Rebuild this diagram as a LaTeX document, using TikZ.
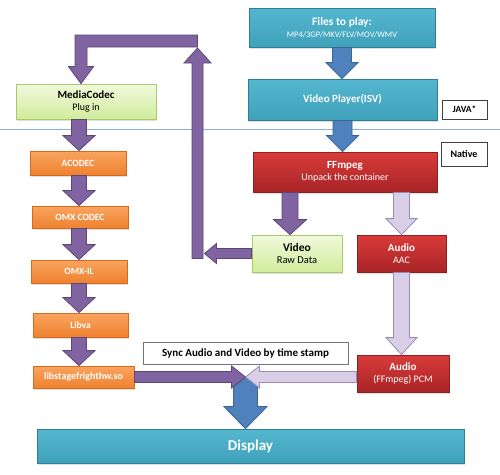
\documentclass[tikz,border=0pt]{standalone}
\usepackage{fontspec}
\setmainfont{Carlito}
\usetikzlibrary{calc,shadows}
\definecolor{tealT}{HTML}{55B6CF}
\definecolor{tealB}{HTML}{3FA1BA}
\definecolor{tealD}{HTML}{2E7E94}
\definecolor{redT}{HTML}{D93B3A}
\definecolor{redB}{HTML}{A82426}
\definecolor{redD}{HTML}{8A2222}
\definecolor{orT}{HTML}{FAA460}
\definecolor{orB}{HTML}{EE822F}
\definecolor{orD}{HTML}{D66B1C}
\definecolor{grT}{HTML}{F1F9DC}
\definecolor{grB}{HTML}{D1EC9C}
\definecolor{grD}{HTML}{A8C96C}
\definecolor{purF}{HTML}{8064A2}
\definecolor{purD}{HTML}{5C4776}
\definecolor{lavF}{HTML}{D8CFE7}
\definecolor{lavD}{HTML}{9C89BA}
\definecolor{bluF}{HTML}{4F81BD}
\definecolor{bluD}{HTML}{3A6596}
\definecolor{sepline}{HTML}{8FAEDC}
\newcommand\blockarrow[6]{%
  \coordinate (baA) at #2;
  \coordinate (baB) at #3;
  \coordinate (baH) at ($(baB)!#6!(baA)$);
  \path[#1] ($(baA)!#4!90:(baB)$) -- ($(baH)!#4!90:(baB)$) -- ($(baH)!#5!90:(baB)$) -- (baB)
    -- ($(baH)!#5!-90:(baB)$) -- ($(baH)!#4!-90:(baB)$) -- ($(baA)!#4!-90:(baB)$) -- cycle;}
\tikzset{
  box/.style={line width=0.8pt, inner sep=0pt, align=center,
    drop shadow={shadow xshift=1.2pt, shadow yshift=-1.5pt, opacity=0.25}},
  tealbox/.style={box, top color=tealT, bottom color=tealB, draw=tealD, text=white},
  redbox/.style={box, top color=redT, bottom color=redB, draw=redD, text=white},
  orbox/.style={box, top color=orT, bottom color=orB, draw=orD, text=white,
    font=\bfseries\fontsize{9.5}{11}\selectfont},
  grbox/.style={box, top color=grT, bottom color=grB, draw=grD, text=black},
  tagbox/.style={line width=0.7pt, inner sep=0pt, align=center, fill=white, draw=black!75},
  purarrow/.style={fill=purF, draw=purD, line width=0.8pt, line join=miter},
  lavarrow/.style={fill=lavF, draw=lavD, line width=0.8pt, line join=miter},
  bluarrow/.style={fill=bluF, draw=bluD, line width=0.8pt, line join=miter},
}
\begin{document}
\begin{tikzpicture}[x=1pt,y=-1pt]
\fill[white] (0,0) rectangle (500,474);
\useasboundingbox (0,0) rectangle (500,474);
\draw[sepline, line width=0.8pt] (0,129) -- (500,129);

% boxes
\node[tealbox, minimum width=186pt, minimum height=39pt] (files) at (342,27.5)
  {\bfseries\fontsize{11.5}{15}\selectfont Files to play:\\ \mdseries\fontsize{8.5}{11}\selectfont MP4/3GP/MKV/FLV/MOV/WMV};
\node[tealbox, minimum width=189pt, minimum height=41pt, font=\bfseries\fontsize{11}{13}\selectfont] (player) at (342.5,99.5) {Video Player(ISV)};
\node[tagbox, minimum width=45pt, minimum height=19pt, font=\bfseries\fontsize{9.5}{11}\selectfont] (java) at (464.5,109.5) {JAVA*};
\node[tagbox, minimum width=46pt, minimum height=24pt, font=\bfseries\fontsize{10}{12}\selectfont] (native) at (464,154) {Native};
\node[redbox, minimum width=184pt, minimum height=40pt] (ffmpeg) at (345,172)
  {\bfseries\fontsize{11}{13}\selectfont FFmpeg\\ \mdseries\fontsize{10}{12}\selectfont Unpack the container};
\node[grbox, minimum width=90pt, minimum height=37pt] (video) at (297,253.5)
  {\bfseries\fontsize{11.5}{14}\selectfont Video\\ \mdseries\fontsize{10.5}{12}\selectfont Raw Data};
\node[redbox, minimum width=89pt, minimum height=37pt] (aac) at (401.5,253.5)
  {\bfseries\fontsize{11}{14}\selectfont Audio\\ \fontsize{10}{12}\selectfont AAC};
\node[redbox, minimum width=92pt, minimum height=37pt] (pcm) at (403,373.5)
  {\bfseries\fontsize{11}{13}\selectfont Audio\\ \fontsize{10}{12}\selectfont (FFmpeg) PCM};
\node[tagbox, draw=black!55, minimum width=205pt, minimum height=22pt, font=\bfseries\fontsize{11}{13}\selectfont] (sync) at (245.5,353)
  {Sync Audio and Video by time stamp};
\node[tealbox, minimum width=427pt, minimum height=34pt, font=\bfseries\fontsize{15}{17}\selectfont] (display) at (250.5,446) {Display};
\node[grbox, minimum width=140pt, minimum height=35pt] (mc) at (86,101.5)
  {\bfseries\fontsize{11}{14}\selectfont MediaCodec\\ \mdseries\fontsize{10}{12}\selectfont Plug in};
\node[orbox, minimum width=96pt, minimum height=24pt] (acodec) at (78,163) {ACODEC};
\node[orbox, minimum width=96pt, minimum height=22pt] (omxc) at (80,217) {OMX CODEC};
\node[orbox, minimum width=96pt, minimum height=23pt] (omxil) at (79,271.5) {OMX-IL};
\node[orbox, minimum width=95pt, minimum height=24pt] (libva) at (80.5,325) {Libva};
\node[orbox, minimum width=101pt, minimum height=22pt, font=\bfseries\fontsize{10}{12}\selectfont] (libsf) at (83.5,377) {libstagefrighthw.so};

% helper coordinates
\coordinate (colL) at (79,0);
\coordinate (vx) at (290,0);
\coordinate (upx) at (197.5,0);
\coordinate (mcx) at (81,0);
\coordinate (meet) at (sync.south |- libsf.east);
\coordinate (uptip) at (197.5,48);
\coordinate (mcin) at (mc.north -| mcx);

% blue arrows
\blockarrow{bluarrow}{(files.south)}{(player.north -| files.south)}{9.5pt}{16pt}{16pt}
\blockarrow{bluarrow}{(player.south)}{(ffmpeg.north -| player.south)}{9.5pt}{16pt}{16pt}

% ffmpeg outputs
\blockarrow{purarrow}{(ffmpeg.south -| vx)}{(video.north -| vx)}{8pt}{16.5pt}{15pt}
\blockarrow{lavarrow}{(ffmpeg.south -| aac.north)}{(aac.north)}{8pt}{15.5pt}{16pt}
\blockarrow{lavarrow}{(aac.south)}{(pcm.north -| aac.south)}{8pt}{15.5pt}{17pt}

% left column
\blockarrow{purarrow}{(mc.south -| colL)}{(acodec.north -| colL)}{7.5pt}{16pt}{15pt}
\blockarrow{purarrow}{(acodec.south -| colL)}{(omxc.north -| colL)}{7.5pt}{16pt}{15pt}
\blockarrow{purarrow}{(omxc.south -| colL)}{(omxil.north -| colL)}{7.5pt}{16pt}{15pt}
\blockarrow{purarrow}{(omxil.south -| colL)}{(libva.north -| colL)}{7.5pt}{16pt}{15pt}
\blockarrow{purarrow}{(libva.south -| colL)}{(libsf.north -| colL)}{7.5pt}{16pt}{15pt}

% video loop back to MediaCodec
\blockarrow{purarrow}{($(video.west -| upx)+(0,5)$)}{(uptip)}{5.5pt}{13.5pt}{15pt}
\blockarrow{purarrow}{(video.west)}{($(video.west -| upx)+(7,0)$)}{5pt}{10pt}{12pt}
\path[purarrow] ($(uptip)+(0,-1)$) -- ($(uptip)+(0,-13)$) -- ($(mcin |- uptip)+(-6,-13)$)
  -- ($(mcin)+(-6,-17)$) -- ($(mcin)+(-12.5,-17)$) -- (mcin) -- ($(mcin)+(12.5,-17)$)
  -- ($(mcin)+(6,-17)$) -- ($(mcin |- uptip)+(6,-1)$) -- cycle;

% sync and display
\blockarrow{bluarrow}{(meet)}{(display.north -| meet)}{12pt}{21.5pt}{22pt}
\blockarrow{purarrow}{(libsf.east)}{(meet)}{5.5pt}{11pt}{14pt}
\blockarrow{lavarrow}{(pcm.west |- meet)}{(meet)}{5.5pt}{11pt}{14pt}
\end{tikzpicture}
\end{document}
